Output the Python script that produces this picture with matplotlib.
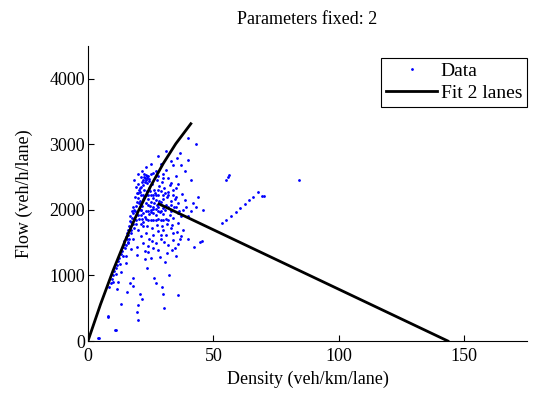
import numpy as np
import matplotlib.pyplot as plt

plt.rcParams['font.family'] = ['Liberation Serif', 'DejaVu Serif']

low_k = [4.1, 4.5, 7.8, 8.1, 10.8, 11.0, 11.4, 13.0, 15.7, 17.8, 20.7, 21.5, 20.0, 19.4,
         20.0, 29.4, 30.0, 30.4, 36.0, 26.4, 27.3, 17.8, 16.7, 15.0, 23.4, 32.3, 30.7, 22.7]
low_q = [41, 50, 371, 380, 168, 175, 794, 560, 743, 845, 713, 641, 550, 438,
         321, 830, 713, 499, 702, 968, 880, 957, 880, 1186, 1120, 1007, 1211, 1247]

edge_k = [8.5, 9.0, 9.5, 10.0, 10.5, 11.0, 11.5, 12.0, 12.5, 13.0, 13.5, 14.0, 14.5,
          12.0, 13.0, 15.0, 9.8, 11.2, 12.7, 13.8]
edge_q = [820, 880, 950, 1000, 1060, 1110, 1160, 1220, 1260, 1320, 1380, 1430, 1480,
          900, 1050, 1300, 900, 1020, 1180, 1290]

mid_k = [19.4, 19.4, 22.0, 26.0, 28.7, 33.3, 27.3, 24.0, 25.0, 29.0, 31.0, 32.0, 34.0,
         35.0, 36.0, 37.0, 24.5, 21.0, 23.0, 26.0, 28.0, 30.0, 33.0, 35.5, 38.0, 44.6,
         42.2, 40.0, 17.0, 18.0, 16.0, 20.0, 22.0, 45.3, 27.8, 31.6, 34.7, 29.3, 25.7,
         22.6, 33.9, 36.6, 24.1, 30.2]
mid_q = [1313, 1440, 1491, 1415, 1288, 1389, 1491, 1350, 1270, 1560, 1620, 1470, 1540,
         1300, 1480, 1600, 1560, 1600, 1650, 1620, 1680, 1700, 1720, 1660, 1700, 1516,
         1440, 1550, 1400, 1550, 1500, 1700, 1750, 1530, 1390, 1340, 1420, 1620, 1530,
         1380, 1650, 1560, 1450, 1510]

top_k = [39.7, 43.0, 36.7, 35.3, 40.0, 34.0, 31.3, 33.0, 37.0, 38.5, 30.0, 32.0, 35.0,
         41.0, 36.0, 29.0, 27.0, 28.0, 31.0]
top_q = [3094, 3000, 2865, 2789, 2763, 2687, 2611, 2750, 2680, 2590, 2550, 2480, 2520,
         2450, 2400, 2700, 2600, 2820, 2900]

peak_k = [22.0, 22.5, 23.0, 23.5, 24.0, 22.8, 23.2, 21.8, 24.5, 25.0, 21.0, 20.5,
          22.3, 23.7, 24.2, 21.5, 22.9, 23.4]
peak_q = [2450, 2500, 2530, 2480, 2510, 2420, 2460, 2380, 2440, 2550, 2350, 2300,
          2540, 2520, 2470, 2420, 2490, 2410]

ridge_k = [14.5, 15.0, 15.5, 16.0, 16.5, 17.0, 17.5, 18.0, 18.5, 19.0, 19.5, 20.0, 16.0,
           17.0, 18.0, 19.0, 20.0, 21.0, 15.5, 16.8, 17.8, 18.7, 19.6, 15.2, 16.3, 17.3,
           18.3, 19.2, 20.3, 16.6, 17.6, 18.9, 20.8, 14.8, 15.8]
ridge_q = [1520, 1580, 1650, 1700, 1760, 1820, 1880, 1950, 2000, 2060, 2120, 2180, 1620,
           1700, 1780, 1850, 1920, 2000, 1550, 1900, 2050, 2200, 2260, 1470, 1560, 1640,
           1720, 1780, 1860, 1830, 1990, 1980, 2140, 1420, 1510]

dense_k = [21, 22, 23, 24, 25, 26, 27, 28, 29, 30, 31, 32,
           21, 22, 23, 24, 25, 26, 27, 28, 30, 32, 34,
           22, 24, 26, 28, 30, 33, 35, 23, 25, 27, 29, 31, 33, 36, 38, 39, 37, 34, 36, 40,
           42, 44, 46, 21.5, 20.5, 22.5, 24.5, 26.5, 28.5, 30.5, 32.5, 25.5, 27.5, 29.5,
           23.5, 25.5, 27.5, 29.5, 31.5, 33.5, 26, 28, 24, 26, 30, 32, 34, 35, 20, 21, 19,
           18.5, 20, 21.5, 23, 25, 26, 28, 30,
           21.3, 22.7, 24.3, 25.8, 27.2, 28.8, 30.9, 32.6, 34.4, 20.9, 23.6, 26.7, 29.2,
           31.8, 22.1, 24.8, 27.6, 29.9, 33.1, 35.7, 21.7, 25.2, 28.3, 31.4, 23.9, 26.3,
           19.8, 20.6, 22.4, 24.6, 27.9, 30.6, 32.9, 35.2, 37.4, 38.8, 36.3, 34.8, 41.2,
           43.1, 21.2, 23.1, 25.1, 27.1, 29.1]
dense_q = [1780, 1820, 1860, 1850, 1850, 1850, 1850, 1860, 1850, 1850, 1860, 1850,
           2220, 2230, 2220, 2230, 2220, 2230, 2220, 2230, 2220, 2230, 2220,
           1950, 1990, 2040, 1980, 1940, 1990, 2050, 2100, 2120, 2150, 2120, 2080, 2140,
           2100, 2000, 2050, 1900, 1880, 1800, 1900, 2100, 2200, 2000, 2060, 2100, 2300,
           2330, 2300, 2360, 2330, 2380, 2400, 2450, 2420, 1750, 1730, 1770, 1760, 1790,
           1770, 1950, 2050, 2170, 2180, 2160, 2050, 2300, 2200, 2400, 2500, 2350, 2450,
           2550, 2600, 2650, 2700, 2560, 2520, 2480,
           1920, 1890, 1930, 2010, 1920, 1960, 2000, 1920, 2050, 2270, 2280, 2260, 2290,
           2270, 2160, 2060, 2080, 2030, 2070, 1950, 1860, 1960, 2140, 2190, 2070, 2110,
           2250, 2330, 2200, 2290, 2310, 2260, 2410, 2330, 2240, 2150, 1980, 2160, 1980,
           2050, 2000, 1990, 2000, 2010, 1990]

far_k = [55.0, 56.3, 55.8, 84.0, 53.5, 55.2, 57.0, 58.8, 60.6, 62.5, 64.3, 65.9, 67.6,
         69.2, 70.2]
far_q = [2458, 2524, 2497, 2458, 1796, 1847, 1908, 1964, 2023, 2084, 2153, 2203, 2270,
         2214, 2214]

# fitted fundamental diagram, two branches
free_k = [0, 5, 10, 15, 20, 25, 30, 35, 41]
free_q = [0, 558, 1073, 1545, 1975, 2362, 2706, 3008, 3313]
cong_k = [28.3, 143.4]
cong_q = [2090, 0]

density = low_k + edge_k + mid_k + top_k + peak_k + ridge_k + dense_k + far_k
flow = low_q + edge_q + mid_q + top_q + peak_q + ridge_q + dense_q + far_q

fig = plt.figure(figsize=(5.33, 3.94), dpi=100)
ax = fig.add_axes([0.165, 0.1345, 0.824, 0.749])

ax.plot(density, flow, '.', color='blue', markersize=2, label='Data')
ax.plot(free_k, free_q, '-', color='black', linewidth=2, label='Fit 2 lanes')
ax.plot(cong_k, cong_q, '-', color='black', linewidth=2)

ax.set_xlim(0, 175)
ax.set_ylim(0, 4500)
ax.set_xticks([0, 50, 100, 150])
ax.set_yticks([0, 1000, 2000, 3000, 4000])
ax.tick_params(direction='in', labelsize=13, length=4)
ax.tick_params(axis='x', pad=5)
ax.tick_params(axis='y', pad=2)
ax.spines['top'].set_visible(False)
ax.spines['right'].set_visible(False)

ax.set_xlabel('Density (veh/km/lane)', fontsize=13, labelpad=4)
ax.set_ylabel('Flow (veh/h/lane)', fontsize=13, labelpad=12)
ax.set_title('Parameters fixed: 2', fontsize=13, pad=16)

leg = ax.legend(loc='upper right', bbox_to_anchor=(1.0, 0.96), fontsize=14,
                fancybox=False, edgecolor='black', borderpad=0.25, handlelength=2.6,
                handletextpad=0.2, labelspacing=0.2, borderaxespad=0.0, framealpha=1)
leg.get_frame().set_linewidth(0.8)

fig.savefig('out.png', dpi=100)
